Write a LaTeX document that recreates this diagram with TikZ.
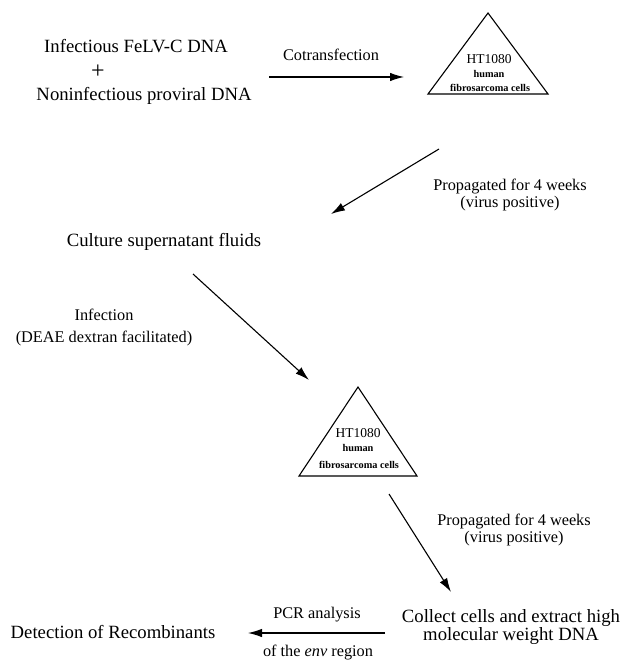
\documentclass[tikz,border=0pt]{standalone}
\usepackage{fontspec}
\setmainfont{Liberation Serif}
\usetikzlibrary{arrows.meta}
\begin{document}
\begin{tikzpicture}[x=1pt,y=-1pt,
  main/.style={font=\fontsize{18.7}{17}\selectfont, inner sep=0pt, align=center},
  lab/.style={font=\fontsize{16.3}{17}\selectfont, inner sep=0pt, align=center},
  flow/.style={line width=1.1pt, -{Latex[length=14pt,width=8.5pt]}},
  tri/.style={line width=1.1pt, line join=miter},
  bigtri/.style={font=\fontsize{13.5}{14}\selectfont, inner sep=0pt},
  smalltri/.style={font=\bfseries\fontsize{10.3}{12}\selectfont, inner sep=0pt}]
\useasboundingbox[fill=white] (0,0) rectangle (623,660);

% texts
\node[main] (inf) at (136,46) {Infectious FeLV-C DNA};
\node[main, font=\fontsize{24}{24}\selectfont] (plus) at (98,72) {+};
\node[main] (noninf) at (144,96) {Noninfectious proviral DNA};
\node[lab] (cot) at (331,55) {Cotransfection};

% triangle 1
\coordinate (t1a) at (488,13);
\coordinate (t1l) at (428,94);
\coordinate (t1r) at (548,94);
\draw[tri] (t1a) -- (t1r) -- (t1l) -- cycle;
\node[bigtri] (t1ht) at (489,59) {HT1080};
\node[smalltri] (t1hu) at (489,74) {human};
\node[smalltri] (t1fc) at (490,88) {fibrosarcoma cells};

\node[lab] (prop1) at (510,195) {Propagated for 4 weeks\\(virus positive)};
\node[main] (cult) at (164,242) {Culture supernatant fluids};
\node[lab, font=\fontsize{16.3}{22}\selectfont] (infl) at (104,327) {Infection\\(DEAE dextran facilitated)};

% triangle 2
\coordinate (t2a) at (358,387);
\coordinate (t2l) at (299,476);
\coordinate (t2r) at (417,476);
\draw[tri] (t2a) -- (t2r) -- (t2l) -- cycle;
\node[bigtri] (t2ht) at (358,433) {HT1080};
\node[smalltri] (t2hu) at (358,448) {human};
\node[smalltri] (t2fc) at (359,465) {fibrosarcoma cells};

\node[lab] (prop2) at (514,530) {Propagated for 4 weeks\\(virus positive)};
\node[main] (coll) at (511,627) {Collect cells and extract high\\molecular weight DNA};
\node[main] (det) at (113,632) {Detection of Recombinants};
\node[lab] (pcr) at (317,615) {PCR analysis};
\node[lab] (env) at (318,653) {of the \textit{env} region};

% arrow end points
\coordinate (a1s) at (269,77);
\coordinate (a1e) at (404,77);
\coordinate (a2s) at (439,149);
\coordinate (a2e) at (331,214);
\coordinate (a3s) at (193,274);
\coordinate (a3e) at (309,380);
\coordinate (a4s) at (389,494);
\coordinate (a4e) at (451,592);
\coordinate (a5s) at (385,633);
\coordinate (a5e) at (248,633);

\draw[flow] (a1s) -- (a1e);
\draw[flow] (a2s) -- (a2e);
\draw[flow] (a3s) -- (a3e);
\draw[flow] (a4s) -- (a4e);
\draw[flow] (a5s) -- (a5e);
\end{tikzpicture}
\end{document}
